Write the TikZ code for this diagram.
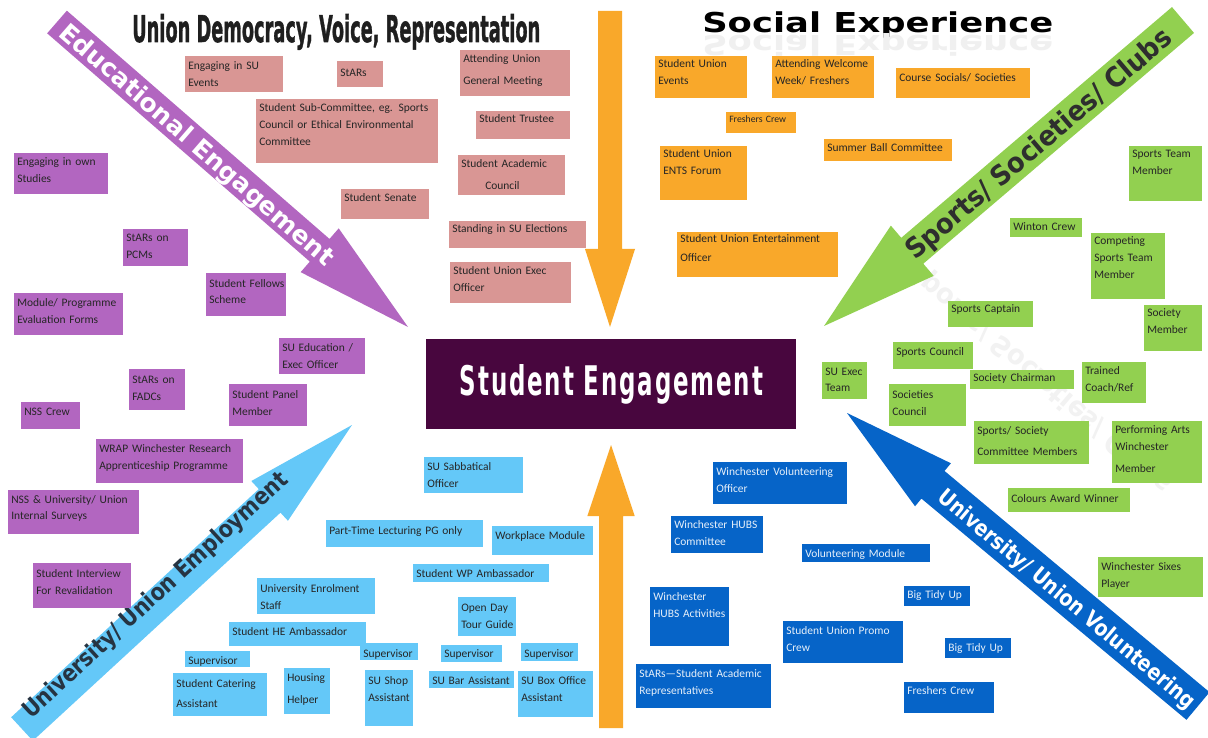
\documentclass[tikz,border=0pt]{standalone}
\usepackage{fontspec}
\setmainfont{Carlito}
\newfontfamily\heavy{DejaVu Sans}
\newfontfamily\condheavy{DejaVu Sans}[BoldFeatures={FakeBold=1.6}]
\newfontfamily\spacedheavy{DejaVu Sans}[LetterSpace=8]
\usepackage{graphicx}
\usetikzlibrary{calc,fit}

\definecolor{cpink}{RGB}{217,150,148}
\definecolor{corange}{RGB}{249,168,42}
\definecolor{cgreen}{RGB}{146,208,80}
\definecolor{cpurple}{RGB}{178,102,192}
\definecolor{clblue}{RGB}{100,200,248}
\definecolor{cdblue}{RGB}{6,100,200}
\definecolor{cse}{RGB}{72,6,62}
\definecolor{cslate}{RGB}{38,52,66}

\tikzset{
  pk/.style={fill=cpink},
  og/.style={fill=corange},
  gn/.style={fill=cgreen},
  pu/.style={fill=cpurple},
  lb/.style={fill=clblue},
  db/.style={fill=cdblue},
  lbl/.style={inner sep=0pt, align=left, text width=200pt,
    font=\fontsize{8.6}{12.75}\selectfont, text=black!85},
  dbt/.style={text=white!90!cdblue},
  arrlbl/.style={inner sep=0pt, text=white, font=\heavy\bfseries},
}

% coloured box with its caption set from the top left corner
% [caption options]{name}{x1}{y1}{x2}{y2}{box style}{first baseline}{caption}
\newcommand\tbox[9][]{%
  \node[fit={(#3,#4) (#5,#6)}, inner sep=0pt, #7] (#2) {};
  \node[lbl, anchor=base west, #1] (#2-t) at ($(#3,#4)+(3,#8)$) {#9};
}

% block arrow: {name}{tail}{tip}{shaft half width}{head half width}{head length}{colour}
\newcommand\fatarrow[7]{%
  \coordinate (#1-tail) at #2;
  \coordinate (#1-tip) at #3;
  \coordinate (#1-base) at ($(#1-tip)!#6!(#1-tail)$);
  \fill[#7] ($(#1-tail)!#4!90:(#1-tip)$) -- ($(#1-base)!#4!90:(#1-tip)$)
    -- ($(#1-base)!#5!90:(#1-tip)$) -- (#1-tip)
    -- ($(#1-base)!#5!-90:(#1-tip)$) -- ($(#1-base)!#4!-90:(#1-tip)$)
    -- ($(#1-tail)!#4!-90:(#1-tip)$) -- cycle;
}

\begin{document}
\begin{tikzpicture}[x=0.75pt, y=-0.75pt]
\fill[white] (0,0) rectangle (1208,738);
\useasboundingbox (0,0) rectangle (1208,738);

% ---------- faint mirror image of the sports label ----------
\node[arrlbl, text=black!5, yscale=-1, rotate=40.4] (l-soc-r) at (1040,377)
  {\resizebox{255pt}{15.75pt}{Sports/ Societies/ Clubs}};

% ---------- block arrows ----------
\fatarrow{a-edu}{(57,22)}{(408,327)}{11.25pt}{21.75pt}{87.75pt}{cpurple}
\fatarrow{a-soc}{(1183,20)}{(824,326)}{12.75pt}{24.75pt}{87pt}{cgreen}
\fatarrow{a-emp}{(22,729)}{(352,425)}{12pt}{20.25pt}{84pt}{clblue}
\fatarrow{a-vol}{(1198,706)}{(847,413)}{13.5pt}{21pt}{84pt}{cdblue}
\fatarrow{a-top}{(610,11)}{(610,327)}{9pt}{18.75pt}{58.5pt}{corange}
\fatarrow{a-bot}{(611,728)}{(611,445)}{9pt}{17.75pt}{53.25pt}{corange}

\node[arrlbl, rotate=-41] (l-edu) at (196,146)
  {\resizebox{265.5pt}{14.25pt}{Educational Engagement}};
\node[arrlbl, text=black!82, rotate=40.4] (l-soc) at (1040,145)
  {\resizebox{255pt}{15.75pt}{Sports/ Societies/ Clubs}};
\node[arrlbl, text=cslate, rotate=42.6] (l-emp) at (156,596)
  {\resizebox{263.25pt}{13.5pt}{University/ Union Employment}};
\node[arrlbl, rotate=-39.9] (l-vol) at (1066,600)
  {\resizebox{246pt}{12.75pt}{University/ Union Volunteering}};

% ---------- headings ----------
\node[anchor=base west, inner sep=0pt, text=black!88] (t-union) at (132,42)
  {\resizebox{306pt}{21pt}{\condheavy\bfseries Union Democracy, Voice, Representation}};
\node[anchor=base west, inner sep=0pt, text=black] (t-social) at (702,33)
  {\resizebox{263.25pt}{15.6pt}{\heavy\bfseries Social Experience}};
\begin{scope}
  \clip (690,34) rectangle (1060,60);
  \node[anchor=base west, inner sep=0pt, yscale=-1, text=black!6] (t-social-r) at (702,36)
    {\resizebox{263.25pt}{15.6pt}{\heavy\bfseries Social Experience}};
\end{scope}

% ---------- centre ----------
\node[fit={(426,339) (796,429)}, inner sep=0pt, fill=cse] (se) {};
\node[anchor=base, inner sep=0pt, text=white] (se-t) at (611.5,395)
  {\resizebox{227.25pt}{23.25pt}{\spacedheavy\bfseries Student Engagement}};

% ---------- union democracy ----------
\tbox{b-suevents}{185}{56}{283}{92}{pk}{14}{Engaging in SU\\Events}
\tbox{b-stars}{337}{61}{383}{87}{pk}{16}{StARs}
\tbox{b-subcom}{256}{99}{438}{163}{pk}{13}{Student Sub-Committee, eg. Sports\\Council or Ethical Environmental\\Committee}
\tbox{b-senate}{341}{189}{429}{219}{pk}{13}{Student Senate}
\tbox{b-agm}{460}{50}{570}{96}{pk}{13}{Attending Union\\[3.75pt]General Meeting}
\tbox{b-trustee}{476}{111}{570}{139}{pk}{12}{Student Trustee}
\tbox{b-acad}{458}{155}{565}{195}{pk}{13}{Student Academic\\[3.75pt]\hspace*{18pt}Council}
\tbox{b-elect}{449}{221}{586}{248}{pk}{12}{Standing in SU Elections}
\tbox{b-exec}{450}{262}{571}{303}{pk}{13}{Student Union Exec\\Officer}

% ---------- social experience ----------
\tbox{b-suev}{655}{56}{747}{98}{og}{12}{Student Union\\Events}
\tbox{b-welcome}{772}{56}{874}{98}{og}{12}{Attending Welcome\\Week/ Freshers}
\tbox{b-course}{896}{68}{1030}{98}{og}{14}{Course Socials/ Societies}
\tbox[font=\fontsize{7.3}{9}\selectfont]{b-fcrew}{726}{112}{796}{133}{og}{11}{Freshers Crew}
\tbox{b-summer}{824}{139}{952}{161}{og}{13}{Summer Ball Committee}
\tbox{b-ents}{660}{146}{747}{200}{og}{12}{Student Union\\ENTS Forum}
\tbox{b-entoff}{677}{232}{838}{277}{og}{11}{Student Union Entertainment\\[1.5pt]Officer}

% ---------- sports, societies, clubs ----------
\tbox{b-stm}{1129}{146}{1202}{201}{gn}{12}{Sports Team\\Member}
\tbox{b-winton}{1010}{218}{1082}{237}{gn}{13}{Winton Crew}
\tbox{b-compet}{1091}{233}{1165}{299}{gn}{12}{Competing\\Sports Team\\Member}
\tbox{b-scapt}{948}{301}{1033}{327}{gn}{12}{Sports Captain}
\tbox{b-socmem}{1144}{305}{1202}{351}{gn}{12}{Society\\Member}
\tbox{b-spcoun}{893}{342}{973}{369}{gn}{13}{Sports Council}
\tbox{b-suexec}{822}{362}{867}{399}{gn}{13}{SU Exec\\Team}
\tbox{b-chair}{970}{370}{1074}{389}{gn}{12}{Society Chairman}
\tbox{b-coach}{1082}{362}{1146}{403}{gn}{12}{Trained\\Coach/Ref}
\tbox{b-socoun}{889}{384}{966}{426}{gn}{14}{Societies\\Council}
\tbox{b-comm}{974}{421}{1089}{464}{gn}{13}{Sports/ Society\\[3pt]Committee Members}
\tbox{b-perf}{1112}{421}{1202}{483}{gn}{12}{Performing Arts\\Winchester\\[3.75pt]Member}
\tbox{b-colours}{1008}{488}{1130}{512}{gn}{14}{Colours Award Winner}
\tbox{b-sixes}{1098}{557}{1203}{597}{gn}{13}{Winchester Sixes\\Player}

% ---------- educational engagement ----------
\tbox{b-ownst}{14}{153}{108}{194}{pu}{13}{Engaging in own\\Studies}
\tbox{b-pcms}{123}{229}{188}{266}{pu}{13}{StARs on\\PCMs}
\tbox{b-fellows}{206}{273}{286}{316}{pu}{14}{Student Fellows\\Scheme}
\tbox{b-module}{14}{293}{123}{335}{pu}{14}{Module/ Programme\\Evaluation Forms}
\tbox{b-eduoff}{279}{338}{365}{374}{pu}{14}{SU Education /\\Exec Officer}
\tbox{b-fadcs}{129}{369}{185}{410}{pu}{14}{StARs on\\FADCs}
\tbox{b-panel}{229}{384}{307}{426}{pu}{14}{Student Panel\\Member}
\tbox{b-nsscrew}{21}{402}{80}{429}{pu}{14}{NSS Crew}
\tbox{b-wrap}{96}{439}{243}{483}{pu}{13}{WRAP Winchester Research\\Apprenticeship Programme}
\tbox{b-nss}{8}{490}{139}{534}{pu}{13}{NSS \& University/ Union\\Internal Surveys}
\tbox{b-interview}{33}{563}{131}{608}{pu}{14}{Student Interview\\For Revalidation}

% ---------- employment ----------
\tbox{b-sabb}{424}{457}{523}{493}{lb}{13}{SU Sabbatical\\Officer}
\tbox{b-ptl}{326}{520}{483}{547}{lb}{14}{Part-Time Lecturing PG only}
\tbox{b-workpl}{492}{526}{593}{555}{lb}{13}{Workplace Module}
\tbox{b-wpamb}{413}{564}{549}{582}{lb}{13}{Student WP Ambassador}
\tbox{b-enrol}{257}{578}{375}{614}{lb}{14}{University Enrolment\\Staff}
\tbox{b-openday}{458}{597}{516}{636}{lb}{14}{Open Day\\Tour Guide}
\tbox{b-heamb}{229}{622}{366}{646}{lb}{13}{Student HE Ambassador}
\tbox{b-sup1}{185}{651}{250}{667}{lb}{13}{Supervisor}
\tbox{b-cater}{173}{673}{267}{716}{lb}{14}{Student Catering\\[2.25pt]Assistant}
\tbox{b-housing}{284}{668}{330}{714}{lb}{13}{Housing\\[3.75pt]Helper}
\tbox{b-sup2}{360}{643}{418}{660}{lb}{14}{Supervisor}
\tbox{b-shop}{365}{670}{413}{726}{lb}{14}{SU Shop\\Assistant}
\tbox{b-sup3}{441}{645}{502}{662}{lb}{12}{Supervisor}
\tbox{b-sup4}{521}{643}{578}{661}{lb}{14}{Supervisor}
\tbox{b-bar}{429}{671}{514}{688}{lb}{13}{SU Bar Assistant}
\tbox{b-boxoff}{518}{671}{593}{717}{lb}{13}{SU Box Office\\Assistant}

% ---------- volunteering ----------
\tbox[dbt]{b-volof}{713}{462}{847}{504}{db}{13}{Winchester Volunteering\\Officer}
\tbox[dbt]{b-hubscom}{671}{516}{763}{553}{db}{12}{Winchester HUBS\\Committee}
\tbox[dbt]{b-volmod}{802}{544}{930}{562}{db}{13}{Volunteering Module}
\tbox[dbt]{b-hubsact}{650}{587}{729}{646}{db}{13}{Winchester\\HUBS Activities}
\tbox[dbt]{b-tidy1}{904}{586}{970}{606}{db}{12}{Big Tidy Up}
\tbox[dbt]{b-promo}{783}{621}{903}{663}{db}{13}{Student Union Promo\\Crew}
\tbox[dbt]{b-tidy2}{945}{638}{1011}{658}{db}{13}{Big Tidy Up}
\tbox[dbt]{b-stars2}{636}{664}{771}{708}{db}{13}{StARs—Student Academic\\Representatives}
\tbox[dbt]{b-fcrew2}{904}{682}{994}{713}{db}{12}{Freshers Crew}

\end{tikzpicture}
\end{document}
